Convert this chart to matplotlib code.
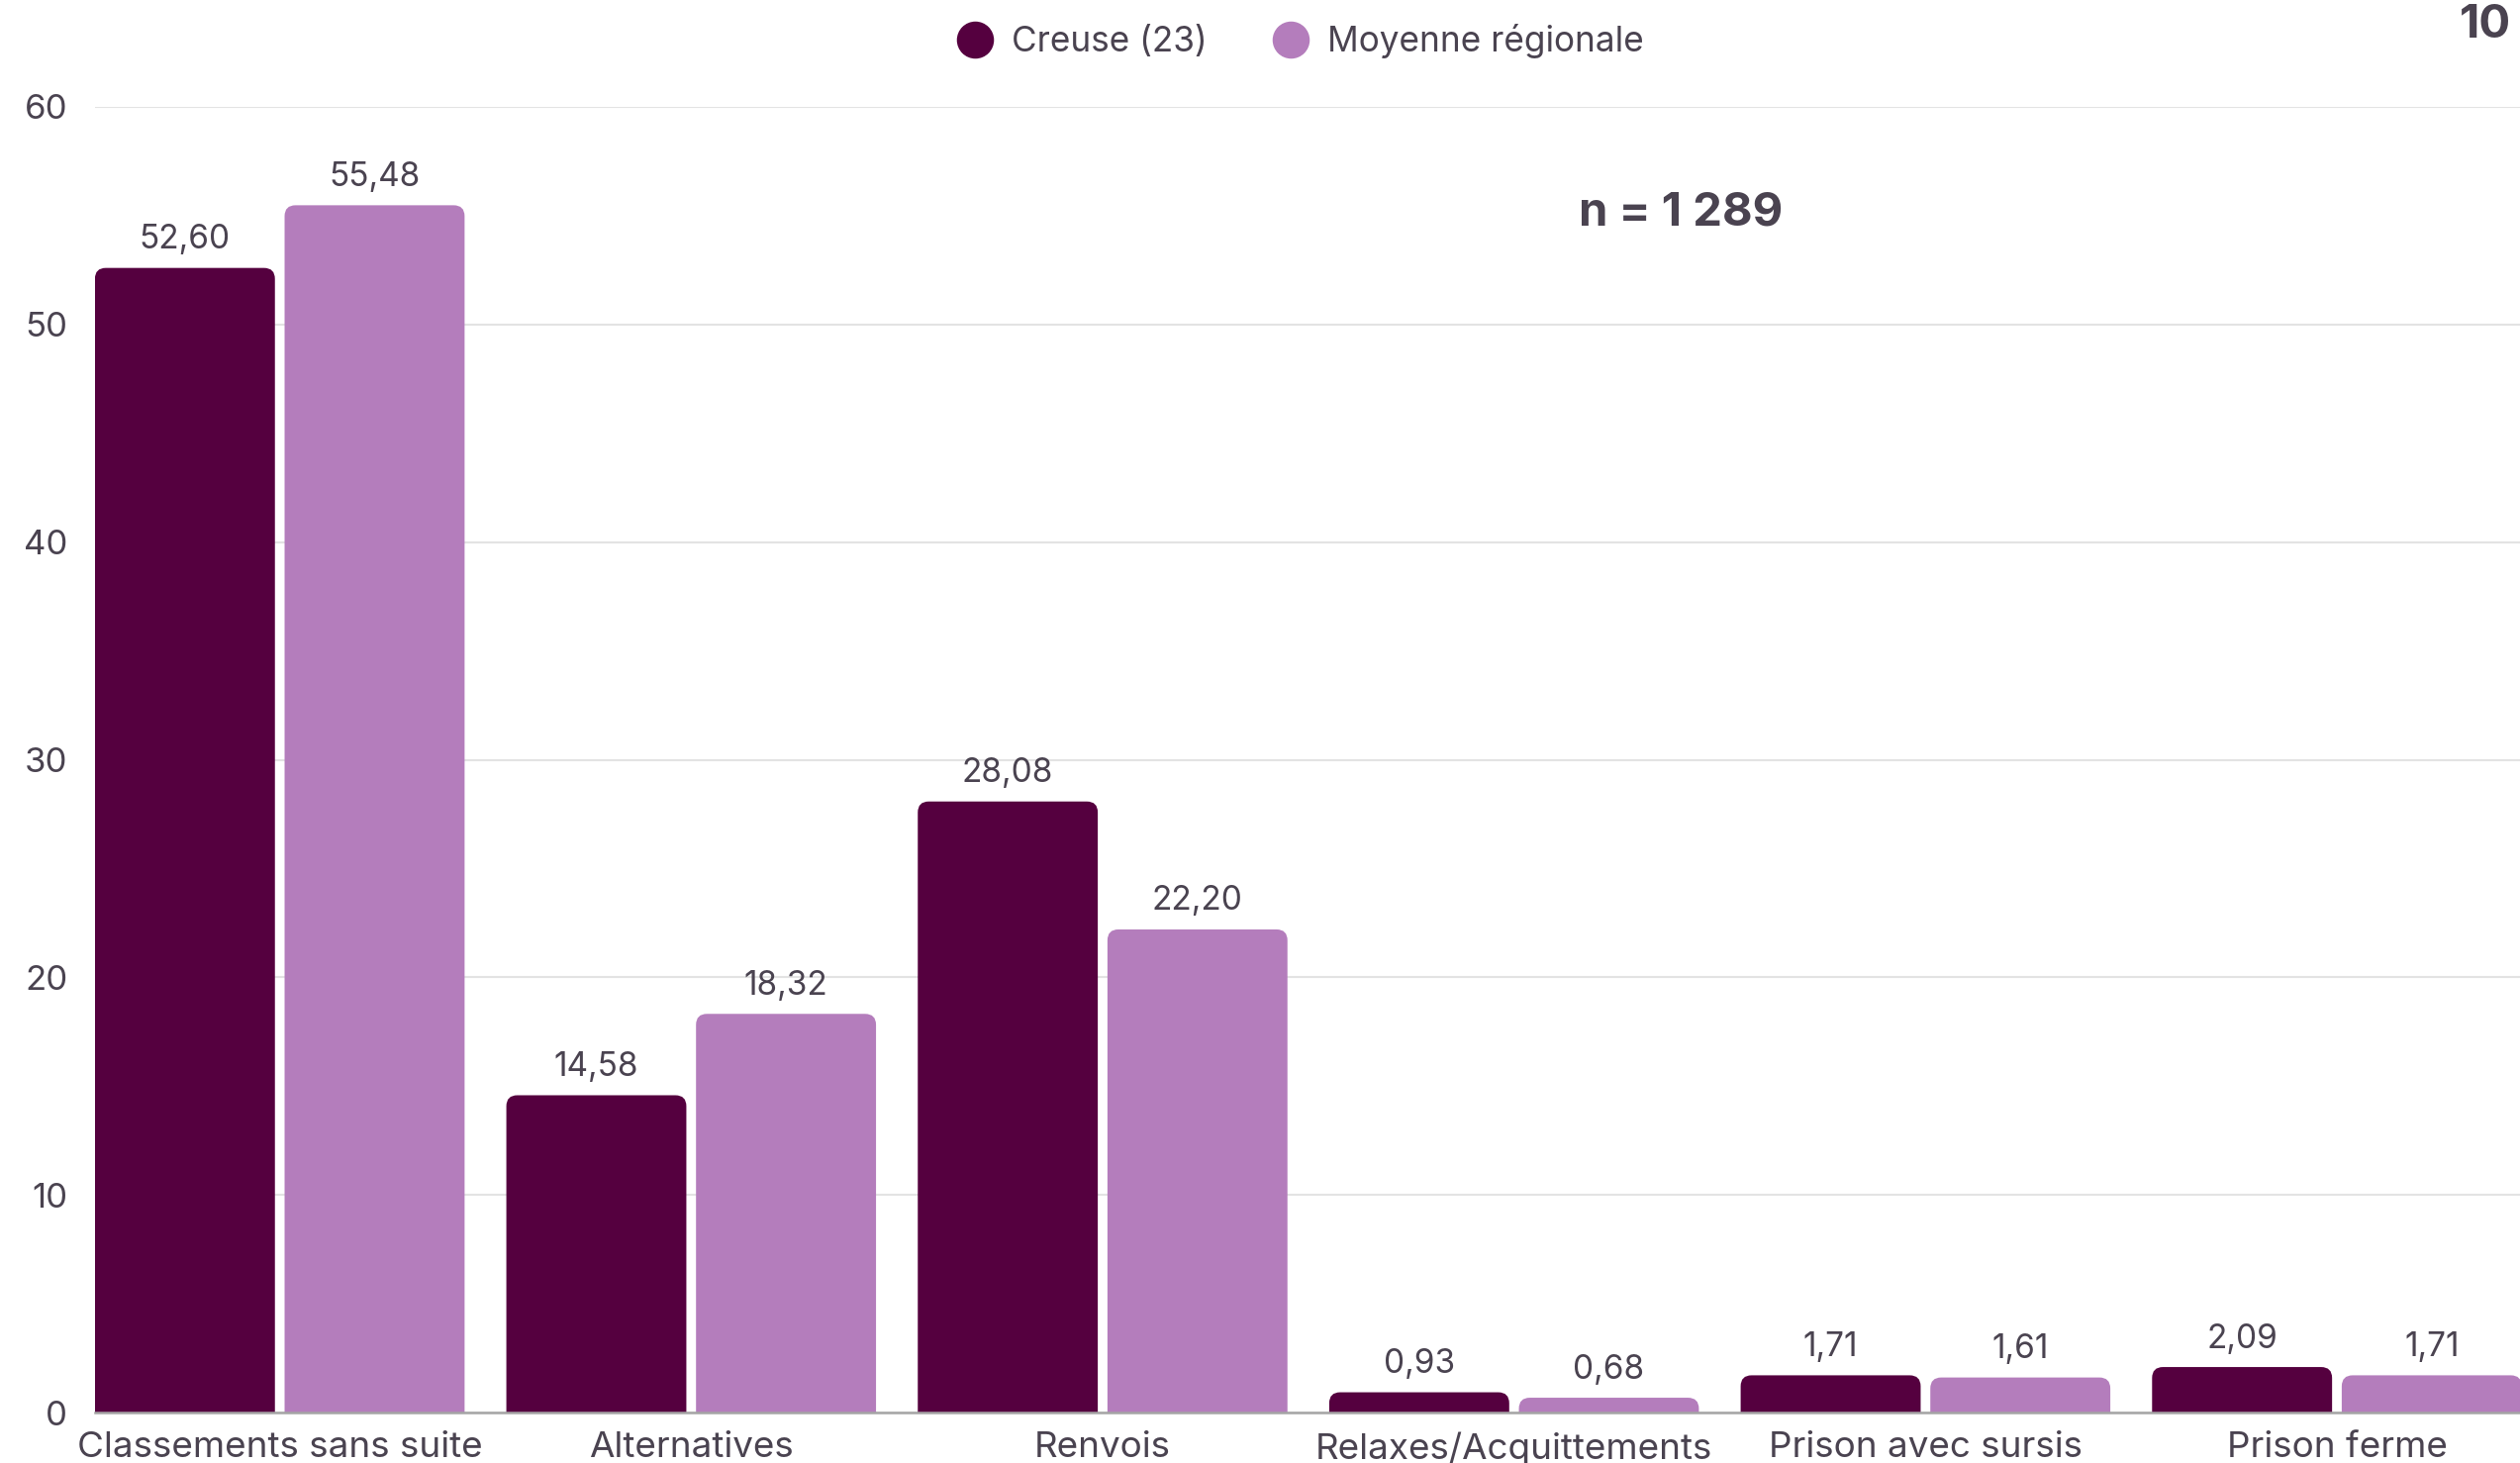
import matplotlib
matplotlib.use("Agg")
import matplotlib.pyplot as plt
import numpy as np
from matplotlib.lines import Line2D
from matplotlib.patches import FancyBboxPatch

plt.rcParams["font.family"] = ["Inter", "DejaVu Sans"]

TEXT = "#4a4350"
DARK = "#55003f"
PINK = "#b47dbc"
GRID = "#e3e3e3"

categories = ["Classements sans suite", "Alternatives", "Renvois",
              "Relaxes/Acquittements", "Prison avec sursis", "Prison ferme"]
creuse = [52.60, 14.58, 28.08, 0.93, 1.71, 2.09]
regionale = [55.48, 18.32, 22.20, 0.68, 1.61, 1.71]
series_names = ["Creuse (23)", "Moyenne régionale"]
yticks = [0, 10, 20, 30, 40, 50, 60]

W, H = 2546, 1478
fig = plt.figure(figsize=(W / 100, H / 100), dpi=100)
ax = fig.add_axes([96 / W, 51 / H, (W - 96) / W, 1319 / H])

x = np.arange(len(categories))
bw = 0.4375
off = 0.2305


def rounded_bars(bars, color):
    # swap the square bars for ones with rounded top corners
    r_px = 11
    ux = ax.transData.transform((1, 0))[0] - ax.transData.transform((0, 0))[0]
    uy = ax.transData.transform((0, 1))[1] - ax.transData.transform((0, 0))[1]
    rs = r_px / ux
    aspect = (r_px / uy) / rs
    for rect in bars:
        rect.set_visible(False)
        x0, w, h = rect.get_x(), rect.get_width(), rect.get_height()
        p = FancyBboxPatch((x0, -2), w, h + 2,
                           boxstyle=f"round,pad=0,rounding_size={rs}",
                           mutation_aspect=aspect,
                           facecolor=color, edgecolor="none", zorder=3,
                           clip_on=True)
        ax.add_patch(p)
        ax.annotate(f"{h:.2f}".replace(".", ","), (x0 + w / 2, h),
                    xytext=(0, 9), textcoords="offset points",
                    ha="center", va="bottom", fontsize=24, color=TEXT)


ax.set_xlim(-0.449, 5.445)
ax.set_ylim(0, 60)

b1 = ax.bar(x - off, creuse, bw, color=DARK)
b2 = ax.bar(x + off, regionale, bw, color=PINK)
rounded_bars(b1, DARK)
rounded_bars(b2, PINK)

ax.set_yticks(yticks)
ax.set_yticklabels([str(t) for t in yticks])
ax.set_xticks(x)
ax.set_xticklabels(categories)
ax.tick_params(axis="y", length=0, pad=20, labelsize=25, labelcolor=TEXT)
ax.tick_params(axis="x", length=0, pad=14, labelsize=26.5, labelcolor=TEXT)
ax.grid(axis="y", color=GRID, linewidth=1.5, zorder=0)
ax.set_axisbelow(True)
for s in ["top", "right", "left"]:
    ax.spines[s].set_visible(False)
ax.spines["bottom"].set_color("#a5a5a5")
ax.spines["bottom"].set_linewidth(1.8)
ax.spines["bottom"].set_zorder(4)

ax.text(3.406, 55.1, "n = 1 289", ha="center", va="center", fontsize=34,
        fontweight="bold", color=TEXT)

handles = [Line2D([], [], marker="o", linestyle="none", markersize=26,
                  color=c) for c in (DARK, PINK)]
fig.legend(handles, series_names, loc="center", bbox_to_anchor=(0.516, 0.972),
           ncol=2, frameon=False, fontsize=25.3, handlelength=1.0,
           handletextpad=0.55, columnspacing=1.9, labelcolor=TEXT)

fig.text(2537 / W, 1 - 26 / H, "10", ha="right", va="center", fontsize=34,
         fontweight="bold", color=TEXT)

fig.savefig("out.png", dpi=100)
